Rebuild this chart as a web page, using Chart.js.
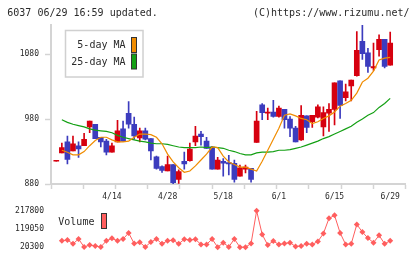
<!DOCTYPE html>
<html><head><meta charset="utf-8">
<script src="https://cdn.jsdelivr.net/npm/chart.js@4.4.0/dist/chart.umd.min.js"></script>
<style>
html,body{margin:0;padding:0;background:#fff;}
#wrap{position:relative;width:420px;height:259px;overflow:hidden;background:#fff;}
#main{position:absolute;left:0;top:0;}
#vol{position:absolute;left:0;top:199px;}
</style></head><body>
<div id="wrap">
<canvas id="main" width="420" height="205"></canvas>
<canvas id="vol" width="420" height="60"></canvas>
</div>
<script>
// ---- data ----
const dates = ['3/31','4/1','4/4','4/5','4/6','4/7','4/8','4/11','4/12','4/13','4/14','4/15','4/18','4/19','4/20','4/21','4/22','4/25','4/26','4/27','4/28','5/2','5/6','5/9','5/10','5/11','5/12','5/13','5/16','5/17','5/18','5/19','5/20','5/23','5/24','5/25','5/26','5/27','5/30','5/31','6/1','6/2','6/3','6/6','6/7','6/8','6/9','6/10','6/13','6/14','6/15','6/16','6/17','6/20','6/21','6/22','6/23','6/24','6/27','6/28','6/29'];
const labelDates = ['4/14','4/28','5/18','6/1','6/15','6/29'];
const open  = [915,928,945,931,939,939,968,972,952,946, 929,945,965,989,972,951,962,950,922,907, 900,910,887,915,916,945,957,946,937,903, 915,913,912,892,903,904,944,1002,989,991, 984,995,980,966,948,985,976,983,968,989, 995,1039,1013,1031,1047,1100,1082,1059,1087,1103,1063];
const high  = [915,943,954,954,945,958,977,972,952,949, 943,978,977,1007,983,966,966,950,923,908, 923,910,902,929,943,969,961,952,938,921, 919,924,917,909,909,904,992,1004,997,1009, 1000,995,984,969,1001,985,986,1002,999,1004, 1036,1039,1034,1040,1115,1125,1089,1097,1110,1103,1114];
const low   = [915,928,911,931,921,939,959,950,937,925, 929,945,946,966,949,945,948,917,903,898, 900,880,881,903,915,939,940,935,903,903, 892,894,883,892,897,883,944,979,979,983, 983,966,953,945,947,959,967,982,954,961, 971,981,1008,1008,1046,1072,1052,1055,1077,1059,1063];
const close = [915,936,918,942,934,949,977,950,945,929, 939,962,946,972,954,962,949,931,904,901, 910,882,899,911,934,954,953,935,903,917, 912,911,887,905,906,887,977,990,991,984, 997,979,966,945,986,967,986,999,990,995, 1036,1001,1022,1040,1086,1081,1061,1061,1103,1061,1097];
const ma5   = [null,932,929,925,925,930,939,947,952,952, 948,945,945,946,952,957,957,956,952,942, 926,914,905,898,900,908,917,926,937,936, 923,914,910,906,906,903,900,915,932,949, 966,986,988,985,981,979,973,976,981,985, 991,1000,1004,1009,1020,1037,1043,1054,1071,1074,1075];
const ma25  = [null,979,975,972,970,968,965,963,962,961, 959,955,952,950,948,946,945,943,942,942, 941,939,937,936,936,936,937,936,937,936, 935,932,930,927,925,925,928,929,929,930, 932,932,933,935,937,940,943,946,950,953, 957,961,965,969,975,980,986,990,998,1004,1012];
const volume = [null,54900,59800,38600,64700,21800,31700,26700,21800,54900, 68200,54900,64700,97800,40100,46500,21800,48400,64700,38600, 54900,58300,38600,63300,59800,63300,35100,35100,64700,20300, 45000,21800,64700,20300,20300,40100,217800,89400,31700,53400, 35100,40100,45000,23800,26700,38600,35100,51400,94400,176800, 193100,97800,35100,38600,143700,102800,69700,45000,84500,38600,54900];
const priceTicks = [880, 980, 1080];
const volumeTicks = [20300, 119050, 217800];
const priceRange = [880, 1125];
const volumeRange = [20300, 217800];

// ---- styling ----
const UP = '#d6000f', DOWN = '#3c3cbe';
const MA5C = '#f08c00', MA25C = '#14a014', VOLC = '#ff5e5e';
const AXC = '#d4d4d4', TXT = '#2a2a2a';
const MONO = '"DejaVu Sans Mono", monospace';
const X_MIN = -0.95, X_MAX = 62.75, N_MARKS = 12;

const candleColors = close.map((c, i) => c >= open[i] ? UP : DOWN);
const pts = arr => arr.map((v, i) => ({x: i, y: v}));

const xTicks = [];
for (let k = 0; k < N_MARKS; k++) xTicks.push({value: X_MIN + k * (X_MAX - X_MIN) / (N_MARKS - 1), mark: true, txt: ''});
labelDates.forEach(d => xTicks.push({value: dates.indexOf(d), mark: false, txt: d}));
xTicks.sort((a, b) => a.value - b.value);

const headerPlugin = {
  id: 'header',
  afterDraw(chart) {
    const c = chart.ctx;
    c.save();
    c.font = '10px ' + MONO;
    c.fillStyle = TXT;
    c.textBaseline = 'middle';
    c.textAlign = 'left';
    c.fillText('6037 06/29 16:59 updated.', 7.3, 13);
    c.textAlign = 'right';
    c.fillText('(C)https://www.rizumu.net/', 409.5, 13);
    // legend box
    c.fillStyle = '#fff';
    c.fillRect(65.5, 30.5, 77.5, 46.5);
    c.strokeStyle = '#d0d0d0';
    c.lineWidth = 1.5;
    c.strokeRect(65.5, 30.5, 77.5, 46.5);
    const items = chart.data.datasets.filter(d => d.type === 'line');
    items.forEach((d, j) => {
      const cy = 45.5 + j * 16.5;
      c.fillStyle = TXT;
      c.textAlign = 'right';
      c.font = '10px ' + MONO;
      c.fillText(d.label, 125.5, cy);
      c.fillStyle = d.borderColor;
      c.fillRect(131.5, cy - 8, 5, 15);
      c.strokeStyle = '#333';
      c.lineWidth = 1;
      c.strokeRect(131.5, cy - 8, 5, 15);
    });
    c.restore();
  }
};

new Chart(document.getElementById('main'), {
  data: {
    datasets: [
      {type: 'line', label: '5-day MA', data: pts(ma5), borderColor: MA5C, borderWidth: 1.2, pointRadius: 0, tension: 0, order: 0},
      {type: 'line', label: '25-day MA', data: pts(ma25), borderColor: MA25C, borderWidth: 1.2, pointRadius: 0, tension: 0, order: 1},
      {type: 'bar', label: 'body', data: open.map((o, i) => ({x: i, y: [o, close[i]]})), backgroundColor: candleColors, barThickness: 5, minBarLength: 1, grouped: false, order: 2},
      {type: 'bar', label: 'wick', data: low.map((l, i) => ({x: i, y: [l, high[i]]})), backgroundColor: candleColors, barThickness: 1, grouped: false, order: 3}
    ]
  },
  options: {
    responsive: false, animation: false, devicePixelRatio: 1,
    layout: {padding: {left: 0, right: 14.5, top: 25, bottom: 0}},
    scales: {
      x: {
        type: 'linear', min: X_MIN, max: X_MAX, offset: false,
        afterBuildTicks: s => { s.ticks = xTicks.map(t => ({...t})); },
        afterFit: s => { s.height = 21; },
        grid: {offset: false, drawOnChartArea: false, drawTicks: true, tickLength: 5, tickWidth: 1.5,
               tickColor: ctx => (ctx.tick && ctx.tick.mark) ? AXC : 'rgba(0,0,0,0)'},
        border: {display: true, color: AXC, width: 2},
        ticks: {autoSkip: false, maxRotation: 0, padding: 3, color: TXT,
                font: {family: MONO, size: 8},
                callback: (v, i, ticks) => ticks[i].txt || ''}
      },
      y: {
        min: priceRange[0], max: priceRange[1],
        afterBuildTicks: s => { s.ticks = priceTicks.map(v => ({value: v})); },
        afterFit: s => { s.width = 51; },
        grid: {drawOnChartArea: false, drawTicks: true, tickLength: 6, tickWidth: 1.5, tickColor: AXC},
        border: {display: true, color: AXC, width: 2},
        ticks: {padding: 6, color: TXT, font: {family: MONO, size: 8}, callback: v => String(v)}
      }
    },
    plugins: {legend: {display: false}, tooltip: {enabled: false}, title: {display: false}}
  },
  plugins: [headerPlugin]
});

const volLegendPlugin = {
  id: 'volLegend',
  afterDraw(chart) {
    const c = chart.ctx;
    const d = chart.data.datasets[0];
    c.save();
    c.font = '10px ' + MONO;
    c.fillStyle = TXT;
    c.textAlign = 'left';
    c.textBaseline = 'middle';
    c.fillText(d.label, 58.3, 23);
    c.fillStyle = d.borderColor;
    c.fillRect(101.5, 14.5, 5, 15);
    c.strokeStyle = '#333';
    c.lineWidth = 1;
    c.strokeRect(101.5, 14.5, 5, 15);
    c.restore();
  }
};

new Chart(document.getElementById('vol'), {
  type: 'line',
  data: {datasets: [{label: 'Volume', data: pts(volume), borderColor: VOLC, backgroundColor: VOLC,
    borderWidth: 1, pointStyle: 'rectRot', pointRadius: 3, pointBorderWidth: 0, tension: 0, clip: false}]},
  options: {
    responsive: false, animation: false, devicePixelRatio: 1,
    layout: {padding: {left: 0, right: 14.5, top: 10, bottom: 10}},
    scales: {
      x: {type: 'linear', min: X_MIN, max: X_MAX, display: false},
      y: {
        min: volumeRange[0], max: volumeRange[1],
        afterBuildTicks: s => { s.ticks = volumeTicks.map(v => ({value: v})); },
        afterFit: s => { s.width = 51; },
        grid: {display: false, drawTicks: false},
        border: {display: false},
        ticks: {padding: 7, color: TXT, font: {family: MONO, size: 8}, callback: v => String(v)}
      }
    },
    plugins: {legend: {display: false}, tooltip: {enabled: false}}
  },
  plugins: [volLegendPlugin]
});
</script>
</body></html>
